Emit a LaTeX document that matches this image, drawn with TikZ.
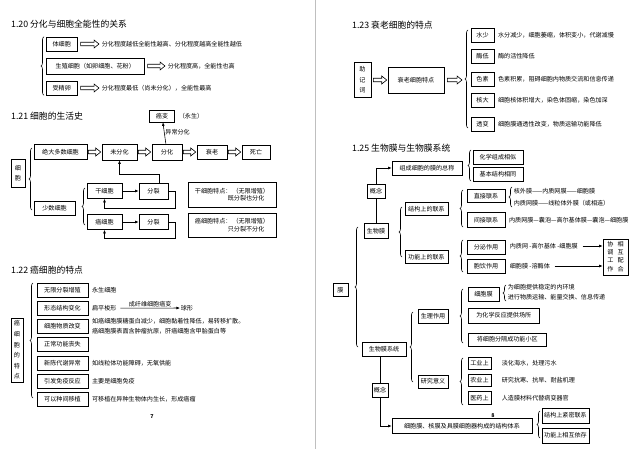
\documentclass[tikz,border=0pt]{standalone}
\usepackage{fontspec}
\setmainfont{Noto Sans CJK SC}
\usetikzlibrary{calc, decorations.pathreplacing, arrows.meta}
\newcommand{\pu}{0.03cm}
% hollow block arrow between two points
\newcommand{\fatarr}[2]{%
  \draw[fat] let \p1=#1, \p2=#2 in
    (\x1,\y1+1.5pt) -- (\x2-4.2pt,\y1+1.5pt) -- (\x2-4.2pt,\y1+3.4pt) -- (\x2,\y1)
    -- (\x2-4.2pt,\y1-3.4pt) -- (\x2-4.2pt,\y1-1.5pt) -- (\x1,\y1-1.5pt) -- cycle;}

\begin{document}
\begin{tikzpicture}[x=\pu, y=-\pu,
    every node/.style={font=\fontsize{5.2}{6.5}\selectfont, inner sep=0.8pt},
    bw/.style={minimum width=#1*\pu},
    bh/.style={minimum height=#1*\pu},
    box/.style={draw, line width=0.5pt, minimum height=14*\pu, inner sep=1pt},
    vbox/.style={box, align=center, font=\fontsize{5.2}{9}\selectfont},
    ttl/.style={anchor=west, font=\fontsize{7.5}{9}\selectfont},
    txt/.style={anchor=west, inner sep=0.5pt},
    fat/.style={line width=0.5pt},
    brc/.style={decorate, decoration={brace, amplitude=2.6pt}, line width=0.5pt},
    arr/.style={line width=0.5pt, -{Latex[length=3pt, width=2.4pt]}},
    pgno/.style={font=\fontsize{4.5}{5}\bfseries\selectfont}]

    \fill[white] (0,0) rectangle (640,449);
    \useasboundingbox (0,0) rectangle (640,449);
    \draw[gray!50, line width=0.6pt] (315,0) -- (315,449);

    % 1.20
    \node[ttl] (t20) at (10,24) {1.20 分化与细胞全能性的关系};
    \node[box, anchor=west, bw=31] (tixb) at (46,44) {体细胞};
    \node[box, anchor=west, bw=98, bh=16] (szxb) at (46,66) {生殖细胞（如卵细胞、花粉）};
    \node[box, anchor=west, bw=31] (sjl) at (46,88) {受精卵};
    \node[txt] (tixbt) at (101,44) {分化程度越低全能性越高、分化程度越高全能性越低};
    \node[txt] (szxbt) at (167,66) {分化程度高，全能性也高};
    \node[txt] (sjlt) at (101,88) {分化程度最低（尚未分化），全能性最高};
    \fatarr{($(tixb.east)+(3,0)$)}{($(tixbt.west)+(-2,0)$)}
    \fatarr{($(szxb.east)+(3,0)$)}{($(szxbt.west)+(-2,0)$)}
    \fatarr{($(sjl.east)+(3,0)$)}{($(sjlt.west)+(-2,0)$)}
    \draw[brc] ([xshift=-2*\pu]sjl.south west) -- ([xshift=-2*\pu]tixb.north west);

    % 1.21
    \node[ttl] (t21) at (10,116) {1.21 细胞的生活史};
    \node[box, bw=25, bh=12] (aib) at (162,116) {癌变};
    \node[txt] (ys) at (178,116) {（永生）};
    \node[box, bw=53, bh=15] (jdds) at (60.5,152) {绝大多数细胞};
    \node[box, bw=35, bh=16] (wfh) at (119.5,152) {未分化};
    \node[box, bw=30, bh=16] (fh) at (167,152) {分化};
    \node[box, bw=30, bh=14] (shl) at (212,152) {衰老};
    \node[box, bw=28, bh=14] (siw) at (256,152) {死亡};
    \fatarr{($(jdds.east)+(1,0)$)}{($(wfh.west)+(-1,0)$)}
    \fatarr{($(wfh.east)+(1,0)$)}{($(fh.west)+(-1,0)$)}
    \fatarr{($(fh.east)+(1,0)$)}{($(shl.west)+(-1,0)$)}
    \fatarr{($(shl.east)+(1,0)$)}{($(siw.west)+(-1,0)$)}
    \draw[arr] (fh) -- node[right, pos=0.55] {异常分化} (aib);
    \node[vbox, bw=14, bh=28] (xb) at (18,173) {细\\胞};
    \draw[brc] (32,210) -- (32,148);
    \node[box, bw=41] (ssxb) at (54.5,208) {少数细胞};
    \draw[brc] (85,225) -- (85,188);
    \node[box, bw=35, bh=15] (gxb) at (104.5,191) {干细胞};
    \node[box, bw=29, bh=16] (fl1) at (153.5,191) {分裂};
    \node[box, bw=35, bh=15] (axb) at (104.5,222) {癌细胞};
    \node[box, bw=29, bh=15] (fl2) at (153.5,222) {分裂};
    \draw[arr] (gxb) -- (fl1);
    \draw[arr] (axb) -- (fl2);
    \draw[arr] ([xshift=6*\pu]fl1.north) -- ++(0,-8) -| (wfh.south);
    \draw[arr] (fl1.east) -- ++(7,0) -- ++(0,17) -| (gxb.south);
    \draw[arr] (fl2.east) -- ++(7,0) -- ++(0,16) -| (axb.south);
    \node[box, bw=88, bh=25, align=left] (gxtd) at (232,194.5)
        {干细胞特点：\,（无限增殖）\\\hspace*{5.4em}既分裂也分化};
    \node[box, bw=88, bh=24, align=left] (axtd) at (232,225)
        {癌细胞特点：\,（无限增殖）\\\hspace*{5.4em}只分裂不分化};

    % 1.22
    \node[ttl] (t22) at (10,270) {1.22 癌细胞的特点};
    \node[vbox, bw=12, bh=64] (axbtd) at (17,350) {癌\\细\\胞\\的\\特\\点};
    \draw[brc] (33,398) -- (33,283);
    \foreach \lb [count=\i] in {无限分裂增殖,形态结构变化,细胞物质改变,正常功能丧失,新陈代谢异常,引发免疫反应,可以种间移植}
        \node[box, bw=51] (tz\i) at (62.5,{271.8+18.2*\i}) {\lb};
    \node[txt] (tzr1) at ([xshift=3*\pu]tz1.east) {永生细胞};
    \node[txt] (tzr2) at ([xshift=3*\pu]tz2.east) {扁平梭形};
    \node[txt] (qx) at (180,308) {球形};
    \draw[arr] ([xshift=3*\pu]tzr2.east) -- node[above] {成纤维细胞癌变} (qx);
    \node[txt, align=left, font=\fontsize{5.2}{8.5}\selectfont] (tzr3) at ([xshift=3*\pu]tz3.east)
        {如癌细胞膜糖蛋白减少，细胞黏着性降低，易转移扩散。\\癌细胞膜表面含肿瘤抗原，肝癌细胞含甲胎蛋白等};
    \node[txt] (tzr5) at ([xshift=3*\pu]tz5.east) {如线粒体功能障碍，无氧供能};
    \node[txt] (tzr6) at ([xshift=3*\pu]tz6.east) {主要是细胞免疫};
    \node[txt] (tzr7) at ([xshift=3*\pu]tz7.east) {可移植在异种生物体内生长，形成癌瘤};
    \node[pgno] (p7) at (152,417) {7};

    % 1.23
    \node[ttl] (t23) at (351,25) {1.23 衰老细胞的特点};
    \node[vbox, bw=17, bh=35] (zjc) at (362.5,80) {助\\记\\词};
    \node[box, bw=56, bh=26] (slxb) at (416,80) {衰老细胞特点};
    \coordinate (sltip) at (462,80);
    \fatarr{($(zjc.east)+(2,0)$)}{($(slxb.west)+(-1,0)$)}
    \fatarr{($(slxb.east)+(3,0)$)}{(sltip)}
    \draw[brc] (468,128) -- (468,30);
    \foreach \kw/\yy/\ds in {水少/35/水分减少，细胞萎缩，体积变小，代谢减慢,
                              酶低/56/酶的活性降低,
                              色素/79/色素积累，阻碍细胞内物质交流和信息传递,
                              核大/100/细胞核体积增大，染色体固缩，染色加深,
                              透变/124/细胞膜通透性改变，物质运输功能降低}{
        \node[box, bw=23] (kw\yy) at (482.5,\yy) {\kw};
        \node[txt] (ds\yy) at ([xshift=3*\pu]kw\yy.east) {\ds};
    }

    % 1.25
    \node[ttl] (t25) at (351,148) {1.25 生物膜与生物膜系统};
    \node[box, bw=15, bh=13] (mo) at (340.5,290) {膜};
    \draw[brc] (358,347) -- (358,227);
    \node[box, bw=24, bh=15] (swm) at (376,231) {生物膜};
    \node[box, bw=18] (gn1) at (376,191) {概念};
    \node[box, bw=70] (zczc) at (427,168) {组成细胞的膜的总称};
    \draw[line width=0.5pt] (swm.north) -- (gn1.south);
    \draw[arr] (gn1.north) |- (zczc.west);
    \draw[brc] (471,181) -- (471,150);
    \node[box, bw=50] (hxzc) at (498,157) {化学组成相似};
    \node[box, bw=50] (jbjg) at (498,174) {基本结构相同};
    \draw[brc] (402,257) -- (402,207);
    \node[box, bw=43, bh=13] (jglx) at (426.5,209) {结构上的联系};
    \node[box, bw=43, bh=13] (gnlx) at (426.5,257) {功能上的联系};
    \draw[brc] (463,227) -- (463,190);
    \node[box, bw=38, bh=13] (zjlx) at (486,196) {直接联系};
    \node[box, bw=38, bh=15] (jjlx) at (486,220) {间接联系};
    \draw[brc] (512,207) -- (512,187);
    \node[txt] (zjt1) at (513,191) {核外膜——内质网膜——细胞膜};
    \node[txt] (zjt2) at (513,203) {内质网膜——线粒体外膜（或相连）};
    \node[txt] (jjt) at ([xshift=3*\pu]jjlx.east) {内质网膜—囊泡—高尔基体膜—囊泡—细胞膜};
    \draw[brc] (463,272) -- (463,240);
    \node[box, bw=38] (fmzy) at (486,247) {分泌作用};
    \node[box, bw=38] (byzy) at (486,266) {胞饮作用};
    \node[txt] (fmt) at (509,246) {内质网 -高尔基体 -细胞膜};
    \node[txt] (byt) at (509,266) {细胞膜 -溶酶体};
    \node[box, bw=25, bh=36, inner sep=0pt] (xtgz) at (615.5,257)
        {\fontsize{5.2}{7.2}\selectfont\begin{tabular}{@{}c@{\hspace{3.5pt}}c@{}}协&相\\调&互\\工&配\\作&合\end{tabular}};
    \draw[arr] ([xshift=4*\pu]fmt.east) -- (xtgz.west |- fmt.east);
    \draw[arr] ([xshift=4*\pu]byt.east) -- (xtgz.west |- byt.east);

    \node[box, bw=44] (swmx) at (384,349) {生物膜系统};
    \node[box, bw=16] (gn2) at (380,390) {概念};
    \node[box, bw=140, bh=15] (jgtx) at (462,426) {细胞膜、核膜及具膜细胞器构成的结构体系};
    \draw[line width=0.5pt] (gn2.north |- swmx.south) -- (gn2.north);
    \draw[arr] (gn2.south) |- (jgtx.west);
    \node[pgno] (p8) at (493,416) {8};
    \draw[brc] (540,438) -- (540,411);
    \node[box, bw=47, bh=15] (jgjm) at (565.5,415.5) {结构上紧密联系};
    \node[box, bw=47, bh=15] (gnyc) at (565.5,435.5) {功能上相互依存};

    \draw[brc] (413,382) -- (413,312);
    \node[box, bw=30] (slzy) at (433,316) {生理作用};
    \node[box, bw=30, bh=13] (yjyy) at (433,381.5) {研究意义};
    \draw[brc] (463,343) -- (463,289);
    \node[box, bw=31] (xbm) at (483.5,294) {细胞膜};
    \draw[brc] (506,301) -- (506,285);
    \node[txt] (xbm1) at (507,287.5) {为细胞提供稳定的内环境};
    \node[txt] (xbm2) at (507,297.5) {进行物质运输、能量交换、信息传递};
    \node[box, anchor=west, bw=71, bh=15] (hxfy) at (468,315.5) {为化学反应提供场所};
    \node[box, anchor=west, bw=78, bh=13] (fgxq) at (468,339.5) {将细胞分隔成功能小区};
    \draw[brc] (463,405) -- (463,358);
    \foreach \kw/\nm/\yy/\ds in {工业上/gy/363.5/淡化海水，处理污水,
                                  农业上/ny/380.5/研究抗寒、抗旱、耐盐机理,
                                  医药上/yy/398/人造膜材料代替病变器官}{
        \node[box, bw=23, bh=12.5] (\nm) at (479.5,\yy) {\kw};
        \node[txt] (\nm t) at (501,\yy) {\ds};
    }
\end{tikzpicture}
\end{document}
